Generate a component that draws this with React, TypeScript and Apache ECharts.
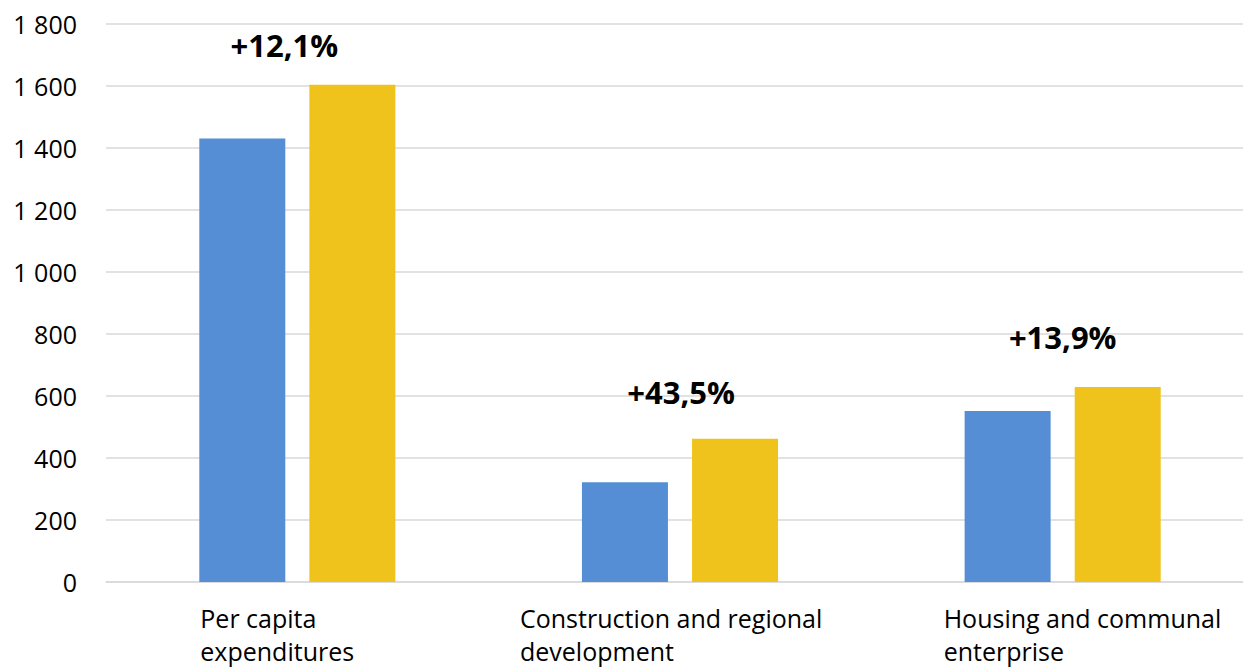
import React, { useEffect, useRef } from "react";
import * as echarts from "echarts";

// ---- data ----
const categories = [
  "Per capita\nexpenditures",
  "Construction and regional\ndevelopment",
  "Housing and communal\nenterprise",
];
const previousValues = [1431, 322, 552];
const currentValues = [1604, 462, 629];
const changeLabels = ["+12,1%", "+43,5%", "+13,9%"];
const yTicks = { min: 0, max: 1800, interval: 200 };

// ---- styling (not data) ----
const BLUE = "#558ED5";
const YELLOW = "#F0C31C";
const GRID = "#D9D9D9";
const FONT = "Open Sans";
const changeLabelOffsets = [
  [-68, -16],
  [-54, -23],
  [-55, -27],
];
const categoryLabelWidths = [194, 320, 238];

function fmtThousands(v: number): string {
  return String(v).replace(/\B(?=(\d{3})+(?!\d))/g, " ");
}

export default function App() {
  const ref = useRef<HTMLDivElement>(null);

  useEffect(() => {
    if (!ref.current) return;
    const chart = echarts.init(ref.current, undefined, { renderer: "svg" });

    const rich: Record<string, any> = {};
    categoryLabelWidths.forEach((w, i) => {
      rich["c" + i] = {
        width: w,
        align: "left",
        fontFamily: FONT,
        fontSize: 25,
        lineHeight: 33,
        color: "#000",
      };
    });

    chart.setOption({
      animation: false,
      backgroundColor: "#fff",
      grid: { left: 106, right: 0, top: 24, bottom: 87, containLabel: false },
      xAxis: {
        type: "category",
        data: categories,
        axisLine: { show: true, lineStyle: { color: GRID, width: 1.5 } },
        axisTick: { show: false },
        axisLabel: {
          interval: 0,
          margin: 19,
          align: "center",
          verticalAlign: "top",
          formatter: (value: string, index: number) =>
            value
              .split("\n")
              .map((line) => `{c${index}|${line}}`)
              .join("\n"),
          rich,
        },
      },
      yAxis: {
        type: "value",
        min: yTicks.min,
        max: yTicks.max,
        interval: yTicks.interval,
        axisLine: { show: false },
        axisTick: { show: false },
        splitLine: { show: true, lineStyle: { color: GRID, width: 1.5 } },
        axisLabel: {
          margin: 29,
          fontFamily: FONT,
          fontSize: 25,
          color: "#000",
          formatter: (v: number) => fmtThousands(v),
        },
      },
      series: [
        {
          name: "Previous",
          type: "bar",
          data: previousValues,
          barWidth: 86,
          barGap: "28%",
          itemStyle: { color: BLUE },
        },
        {
          name: "Current",
          type: "bar",
          data: currentValues.map((v, i) => ({
            value: v,
            label: {
              show: true,
              position: "top",
              distance: 8,
              offset: changeLabelOffsets[i],
              formatter: changeLabels[i],
              fontFamily: FONT,
              fontWeight: "bold",
              fontSize: 31,
              color: "#000",
            },
          })),
          barWidth: 86,
          barGap: "28%",
          itemStyle: { color: YELLOW },
        },
      ],
    });

    return () => chart.dispose();
  }, []);

  return (
    <div
      style={{
        position: "fixed",
        left: 0,
        top: 0,
        width: 1243,
        height: 669,
        overflow: "hidden",
        background: "#fff",
      }}
    >
      <div ref={ref} style={{ width: 1254, height: 669 }} />
    </div>
  );
}
